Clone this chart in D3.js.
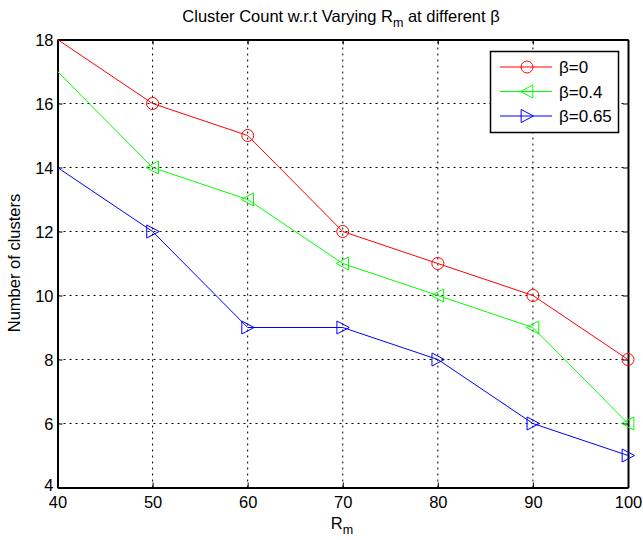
<!DOCTYPE html>
<html><head><meta charset="utf-8">
<script src="https://cdn.jsdelivr.net/npm/d3@7"></script>
<style>body{margin:0;background:#fff}svg{display:block;font-family:"Liberation Sans",Arial,sans-serif}</style>
</head><body>
<script>
const rm = [40,50,60,70,80,90,100];
const beta0 = [18,16,15,12,11,10,8];
const beta04 = [17,14,13,11,10,9,6];
const beta065 = [14,12,9,9,8,6,5];
const xTicks = [40,50,60,70,80,90,100];
const yTicks = [4,6,8,10,12,14,16,18];
const seriesNames = ["β=0","β=0.4","β=0.65"];
const colors = ["#ff0000","#00ff00","#0000ff"];
const markers = ["circle","left","right"];

const W=643,H=540;
const m={l:57.5,r:15,t:39.5,b:52.5};
const svg=d3.select("body").append("svg").attr("width",W).attr("height",H);
const x=d3.scaleLinear().domain([40,100]).range([m.l,W-m.r]);
const y=d3.scaleLinear().domain([4,18]).range([H-m.b,m.t]);

// grid
const g=svg.append("g");
g.selectAll(".gx").data(xTicks.slice(1,-1)).join("line")
 .attr("x1",d=>x(d)).attr("x2",d=>x(d)).attr("y1",y(4)).attr("y2",y(18))
 .attr("stroke","#000").attr("stroke-width",1).attr("stroke-dasharray","2,4");
g.selectAll(".gy").data(yTicks.slice(1,-1)).join("line")
 .attr("y1",d=>y(d)).attr("y2",d=>y(d)).attr("x1",x(40)).attr("x2",x(100))
 .attr("stroke","#000").attr("stroke-width",1).attr("stroke-dasharray","2,4");

// axes
const ax=svg.append("g").attr("transform",`translate(0,${y(4)})`)
 .call(d3.axisBottom(x).tickValues(xTicks).tickSize(-5).tickPadding(9).tickSizeOuter(0));
const ay=svg.append("g").attr("transform",`translate(${x(40)},0)`)
 .call(d3.axisLeft(y).tickValues(yTicks).tickSize(-5).tickPadding(4).tickSizeOuter(0));
const axT=svg.append("g").attr("transform",`translate(0,${y(18)})`)
 .call(d3.axisTop(x).tickValues(xTicks).tickSize(-5).tickFormat("").tickSizeOuter(0));
const ayR=svg.append("g").attr("transform",`translate(${x(100)},0)`)
 .call(d3.axisRight(y).tickValues(yTicks).tickSize(-5).tickFormat("").tickSizeOuter(0));
[ax,ay,axT,ayR].forEach(a=>{a.select(".domain").attr("stroke","#000").attr("stroke-width",2);
 a.selectAll("text").attr("font-size",16.5).attr("fill","#000").attr("font-family","Liberation Sans, Arial, sans-serif");});
ay.selectAll("text").attr("dy",d=>d===4?"0.2em":"0.36em");

function drawMarker(sel,type,color,cx,cy){
 const s=6.5;
 if(type==="circle") sel.append("circle").attr("cx",cx).attr("cy",cy).attr("r",6).attr("fill","none").attr("stroke",color).attr("stroke-width",1);
 else if(type==="left") sel.append("path").attr("d",`M${cx-s},${cy}L${cx+s*0.9},${cy-s}L${cx+s*0.9},${cy+s}Z`).attr("fill","none").attr("stroke",color).attr("stroke-width",1);
 else sel.append("path").attr("d",`M${cx+s},${cy}L${cx-s*0.9},${cy-s}L${cx-s*0.9},${cy+s}Z`).attr("fill","none").attr("stroke",color).attr("stroke-width",1);
}

const data=[beta0,beta04,beta065];
const line=d3.line().x((d,i)=>x(rm[i])).y(d=>y(d));
data.forEach((s,k)=>{
 const gg=svg.append("g");
 gg.append("path").attr("d",line(s)).attr("fill","none").attr("stroke",colors[k]).attr("stroke-width",1);
 s.forEach((v,i)=>{ if(i>0) drawMarker(gg,markers[k],colors[k],x(rm[i]),y(v)); });
});

// legend
const lg=svg.append("g");
lg.append("rect").attr("x",490.5).attr("y",51.5).attr("width",128).attr("height",81)
 .attr("fill","#fff").attr("stroke","#000").attr("stroke-width",1.5);
seriesNames.forEach((n,k)=>{
 const yy=67+k*24.5;
 lg.append("line").attr("x1",500).attr("x2",552).attr("y1",yy).attr("y2",yy).attr("stroke",colors[k]).attr("stroke-width",1);
 drawMarker(lg,markers[k],colors[k],527,yy);
 lg.append("text").attr("x",559).attr("y",yy+6).attr("font-size",17).text(n);
});

// title & labels
const title=svg.append("text").attr("x",341).attr("y",22).attr("text-anchor","middle").attr("font-size",16.5);
title.append("tspan").text("Cluster Count w.r.t Varying R");
title.append("tspan").attr("font-size",12.5).attr("dy",5).text("m");
title.append("tspan").attr("dy",-5).text(" at different β");
const xl=svg.append("text").attr("x",342).attr("y",529).attr("text-anchor","middle").attr("font-size",16.5);
xl.append("tspan").text("R");
xl.append("tspan").attr("font-size",12.5).attr("dy",5).text("m");
svg.append("text").attr("transform","translate(20,263) rotate(-90)").attr("text-anchor","middle").attr("font-size",16.5).text("Number of clusters");
</script>
</body></html>
